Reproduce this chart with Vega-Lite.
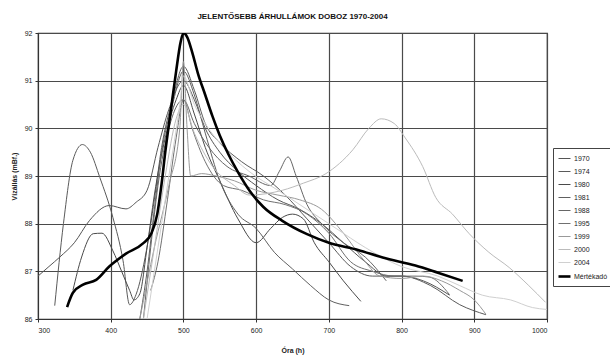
{
  "$schema": "https://vega.github.io/schema/vega-lite/v6.json",
  "width": 509,
  "height": 286,
  "autosize": {"type": "none"},
  "padding": {"left": 38, "top": 33, "right": 63, "bottom": 37},
  "background": "white",
  "title": {"text": "JELENTŐSEBB ÁRHULLÁMOK   DOBOZ 1970-2004", "font": "Liberation Sans", "fontSize": 8, "fontWeight": "bold", "color": "#111", "anchor": "middle", "offset": 8},
  "config": {
    "view": {"stroke": "#333", "strokeWidth": 1.2},
    "axis": {"labelFont": "Liberation Sans", "labelFontSize": 7, "labelColor": "#222", "titleFont": "Liberation Sans", "titleFontSize": 7, "titleFontWeight": "bold", "titleColor": "#222", "gridColor": "#4a4a4a", "gridOpacity": 1, "gridWidth": 1.2, "domainColor": "#333", "tickColor": "#333", "tickSize": 3}
  },
  "data": {"values": [
    {"s":"1970","x":300,"y":86.9},{"s":"1970","x":315,"y":87.1},{"s":"1970","x":330,"y":87.3},{"s":"1970","x":350,"y":87.6},{"s":"1970","x":371,"y":88.07},{"s":"1970","x":398,"y":88.38},{"s":"1970","x":421,"y":88.31},{"s":"1970","x":435,"y":88.45},{"s":"1970","x":450,"y":88.7},{"s":"1970","x":465,"y":89.6},{"s":"1970","x":480,"y":90.4},{"s":"1970","x":500,"y":91.0},{"s":"1970","x":515,"y":90.6},{"s":"1970","x":530,"y":90.0},{"s":"1970","x":550,"y":89.5},{"s":"1970","x":575,"y":89.1},{"s":"1970","x":600,"y":88.8},{"s":"1970","x":630,"y":88.5},{"s":"1970","x":660,"y":88.3},{"s":"1970","x":690,"y":88.0},{"s":"1970","x":720,"y":87.6},{"s":"1970","x":750,"y":87.2},{"s":"1970","x":780,"y":86.9},{"s":"1970","x":800,"y":86.9},{"s":"1970","x":830,"y":86.8},{"s":"1970","x":866,"y":86.5},
    {"s":"1974","x":323,"y":86.28},{"s":"1974","x":335,"y":88.0},{"s":"1974","x":348,"y":89.33},{"s":"1974","x":361,"y":89.66},{"s":"1974","x":372,"y":89.5},{"s":"1974","x":385,"y":88.97},{"s":"1974","x":403,"y":88.13},{"s":"1974","x":417,"y":87.22},{"s":"1974","x":426,"y":86.3},{"s":"1974","x":435,"y":86.52},{"s":"1974","x":449,"y":87.43},{"s":"1974","x":460,"y":88.5},{"s":"1974","x":470,"y":89.6},{"s":"1974","x":485,"y":90.6},{"s":"1974","x":500,"y":91.3},{"s":"1974","x":515,"y":90.8},{"s":"1974","x":530,"y":90.1},{"s":"1974","x":550,"y":89.7},{"s":"1974","x":580,"y":89.3},{"s":"1974","x":610,"y":89.0},{"s":"1974","x":640,"y":88.6},{"s":"1974","x":670,"y":88.1},{"s":"1974","x":700,"y":87.6},{"s":"1974","x":730,"y":87.1},{"s":"1974","x":760,"y":86.9},{"s":"1974","x":800,"y":86.9},{"s":"1974","x":840,"y":86.7},{"s":"1974","x":880,"y":86.3},{"s":"1974","x":916,"y":86.09},
    {"s":"1980","x":348,"y":86.6},{"s":"1980","x":360,"y":87.3},{"s":"1980","x":376,"y":87.79},{"s":"1980","x":388,"y":87.8},{"s":"1980","x":403,"y":87.43},{"s":"1980","x":415,"y":87.0},{"s":"1980","x":426,"y":86.6},{"s":"1980","x":432,"y":86.4},{"s":"1980","x":440,"y":86.53},{"s":"1980","x":450,"y":87.5},{"s":"1980","x":460,"y":88.6},{"s":"1980","x":475,"y":89.8},{"s":"1980","x":490,"y":90.6},{"s":"1980","x":500,"y":90.9},{"s":"1980","x":515,"y":90.3},{"s":"1980","x":530,"y":89.6},{"s":"1980","x":550,"y":88.9},{"s":"1980","x":575,"y":88.1},{"s":"1980","x":600,"y":87.6},{"s":"1980","x":620,"y":87.9},{"s":"1980","x":636,"y":88.13},{"s":"1980","x":650,"y":88.2},{"s":"1980","x":665,"y":88.1},{"s":"1980","x":680,"y":87.6},{"s":"1980","x":700,"y":87.2},{"s":"1980","x":720,"y":86.8},{"s":"1980","x":744,"y":86.37},
    {"s":"1981","x":440,"y":86.0},{"s":"1981","x":450,"y":87.0},{"s":"1981","x":460,"y":88.3},{"s":"1981","x":470,"y":89.5},{"s":"1981","x":485,"y":90.5},{"s":"1981","x":500,"y":91.2},{"s":"1981","x":515,"y":90.7},{"s":"1981","x":530,"y":89.9},{"s":"1981","x":550,"y":88.9},{"s":"1981","x":575,"y":88.2},{"s":"1981","x":600,"y":87.9},{"s":"1981","x":625,"y":87.4},{"s":"1981","x":650,"y":87.05},{"s":"1981","x":675,"y":86.7},{"s":"1981","x":700,"y":86.4},{"s":"1981","x":728,"y":86.28},
    {"s":"1988","x":445,"y":86.0},{"s":"1988","x":455,"y":87.5},{"s":"1988","x":465,"y":88.8},{"s":"1988","x":480,"y":90.0},{"s":"1988","x":500,"y":90.6},{"s":"1988","x":515,"y":90.1},{"s":"1988","x":535,"y":89.6},{"s":"1988","x":560,"y":89.2},{"s":"1988","x":590,"y":89.0},{"s":"1988","x":620,"y":88.8},{"s":"1988","x":632,"y":89.1},{"s":"1988","x":644,"y":89.4},{"s":"1988","x":655,"y":89.0},{"s":"1988","x":670,"y":88.4},{"s":"1988","x":690,"y":88.0},{"s":"1988","x":720,"y":87.6},{"s":"1988","x":750,"y":87.3},{"s":"1988","x":779,"y":86.8},
    {"s":"1995","x":455,"y":86.6},{"s":"1995","x":465,"y":87.2},{"s":"1995","x":478,"y":88.5},{"s":"1995","x":490,"y":89.8},{"s":"1995","x":500,"y":90.6},{"s":"1995","x":512,"y":90.0},{"s":"1995","x":530,"y":89.3},{"s":"1995","x":555,"y":88.8},{"s":"1995","x":580,"y":88.7},{"s":"1995","x":610,"y":88.5},{"s":"1995","x":640,"y":88.4},{"s":"1995","x":670,"y":88.2},{"s":"1995","x":700,"y":87.8},{"s":"1995","x":730,"y":87.2},{"s":"1995","x":760,"y":87.0},{"s":"1995","x":790,"y":86.9},{"s":"1995","x":820,"y":86.9},{"s":"1995","x":838,"y":86.88},{"s":"1995","x":866,"y":86.51},
    {"s":"1999","x":440,"y":86.0},{"s":"1999","x":460,"y":87.5},{"s":"1999","x":480,"y":88.8},{"s":"1999","x":495,"y":90.0},{"s":"1999","x":500,"y":91.4},{"s":"1999","x":505,"y":90.0},{"s":"1999","x":510,"y":89.0},{"s":"1999","x":525,"y":89.05},{"s":"1999","x":545,"y":89.0},{"s":"1999","x":570,"y":88.9},{"s":"1999","x":600,"y":88.7},{"s":"1999","x":630,"y":88.6},{"s":"1999","x":660,"y":88.5},{"s":"1999","x":690,"y":88.3},{"s":"1999","x":720,"y":87.8},{"s":"1999","x":750,"y":87.2},{"s":"1999","x":770,"y":86.9},{"s":"1999","x":800,"y":86.85},{"s":"1999","x":830,"y":86.9},{"s":"1999","x":855,"y":86.8},{"s":"1999","x":880,"y":86.6},{"s":"1999","x":900,"y":86.4},{"s":"1999","x":916,"y":86.1},
    {"s":"2000","x":445,"y":86.0},{"s":"2000","x":460,"y":87.5},{"s":"2000","x":475,"y":89.0},{"s":"2000","x":490,"y":90.2},{"s":"2000","x":500,"y":90.5},{"s":"2000","x":515,"y":89.9},{"s":"2000","x":540,"y":89.2},{"s":"2000","x":570,"y":88.8},{"s":"2000","x":591,"y":88.6},{"s":"2000","x":636,"y":88.7},{"s":"2000","x":665,"y":88.85},{"s":"2000","x":696,"y":89.05},{"s":"2000","x":733,"y":89.55},{"s":"2000","x":755,"y":90.0},{"s":"2000","x":772,"y":90.2},{"s":"2000","x":790,"y":90.1},{"s":"2000","x":805,"y":89.8},{"s":"2000","x":829,"y":89.2},{"s":"2000","x":847,"y":88.55},{"s":"2000","x":870,"y":88.2},{"s":"2000","x":893,"y":87.79},{"s":"2000","x":920,"y":87.4},{"s":"2000","x":948,"y":87.08},{"s":"2000","x":975,"y":86.7},{"s":"2000","x":998,"y":86.35},
    {"s":"2004","x":450,"y":86.0},{"s":"2004","x":465,"y":87.5},{"s":"2004","x":480,"y":89.0},{"s":"2004","x":495,"y":90.5},{"s":"2004","x":500,"y":91.1},{"s":"2004","x":515,"y":90.5},{"s":"2004","x":530,"y":90.1},{"s":"2004","x":555,"y":89.6},{"s":"2004","x":590,"y":89.1},{"s":"2004","x":630,"y":88.7},{"s":"2004","x":670,"y":88.3},{"s":"2004","x":710,"y":87.9},{"s":"2004","x":750,"y":87.5},{"s":"2004","x":800,"y":87.1},{"s":"2004","x":850,"y":86.9},{"s":"2004","x":880,"y":86.7},{"s":"2004","x":911,"y":86.5},{"s":"2004","x":950,"y":86.4},{"s":"2004","x":980,"y":86.24},{"s":"2004","x":1000,"y":86.2},
    {"s":"Mértékadó","x":340,"y":86.25},{"s":"Mértékadó","x":348,"y":86.55},{"s":"Mértékadó","x":362,"y":86.72},{"s":"Mértékadó","x":380,"y":86.82},{"s":"Mértékadó","x":398,"y":87.1},{"s":"Mértékadó","x":421,"y":87.37},{"s":"Mértékadó","x":444,"y":87.58},{"s":"Mértékadó","x":456,"y":87.8},{"s":"Mértékadó","x":464,"y":88.2},{"s":"Mértékadó","x":470,"y":88.84},{"s":"Mértékadó","x":475,"y":89.5},{"s":"Mértékadó","x":482,"y":90.3},{"s":"Mértékadó","x":490,"y":91.2},{"s":"Mértékadó","x":496,"y":91.8},{"s":"Mértékadó","x":500,"y":92.0},{"s":"Mértékadó","x":505,"y":91.92},{"s":"Mértékadó","x":512,"y":91.6},{"s":"Mértékadó","x":520,"y":91.15},{"s":"Mértékadó","x":530,"y":90.7},{"s":"Mértékadó","x":540,"y":90.25},{"s":"Mértékadó","x":550,"y":89.85},{"s":"Mértékadó","x":562,"y":89.45},{"s":"Mértékadó","x":575,"y":89.08},{"s":"Mértékadó","x":591,"y":88.69},{"s":"Mértékadó","x":610,"y":88.35},{"s":"Mértékadó","x":636,"y":88.06},{"s":"Mértékadó","x":670,"y":87.78},{"s":"Mértékadó","x":700,"y":87.6},{"s":"Mértékadó","x":740,"y":87.45},{"s":"Mértékadó","x":774,"y":87.29},{"s":"Mértékadó","x":819,"y":87.12},{"s":"Mértékadó","x":850,"y":86.97},{"s":"Mértékadó","x":884,"y":86.8}
  ]},
  "mark": {"type": "line", "interpolate": "monotone", "clip": true},
  "encoding": {
    "x": {"field": "x", "type": "quantitative", "scale": {"domain": [300, 1000], "nice": false}, "axis": {"values": [300,400,500,600,700,800,900,1000], "format": "d", "title": "Óra (h)", "titleY": 27, "labelPadding": 4}},
    "y": {"field": "y", "type": "quantitative", "scale": {"domain": [86, 92], "nice": false, "zero": false}, "axis": {"values": [86,87,88,89,90,91,92], "title": "Vízállás (mBf.)", "titleX": -21, "labelPadding": 3}},
    "color": {"field": "s", "type": "nominal", "scale": {"domain": ["1970","1974","1980","1981","1988","1995","1999","2000","2004","Mértékadó"], "range": ["#555","#5a5a5a","#4a4a4a","#606060","#666","#707070","#999","#bbb","#d0d0d0","#000"]},
      "legend": {"title": null, "orient": "none", "legendX": 515, "legendY": 115, "symbolType": "stroke", "symbolSize": 144, "labelFont": "Liberation Sans", "labelFontSize": 7, "labelColor": "#222", "rowPadding": 3, "strokeColor": "#444", "padding": 4, "fillColor": "white", "labelOffset": 2}},
    "strokeWidth": {"field": "s", "type": "nominal", "scale": {"type": "ordinal", "domain": ["1970","1974","1980","1981","1988","1995","1999","2000","2004","Mértékadó"], "range": [1,1,1,1,1,1,1,1,1,2.6]},
      "legend": {"title": null, "orient": "none", "legendX": 515, "legendY": 115, "symbolType": "stroke", "symbolSize": 144, "labelFont": "Liberation Sans", "labelFontSize": 7, "labelColor": "#222", "rowPadding": 3, "strokeColor": "#444", "padding": 4, "fillColor": "white", "labelOffset": 2}}
  }
}
